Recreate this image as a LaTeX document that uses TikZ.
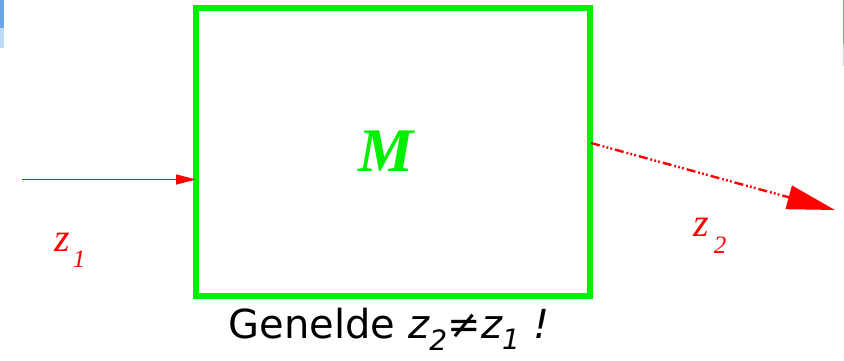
\documentclass[tikz,border=0pt]{standalone}
\usepackage{fontspec}
\setmainfont{Liberation Serif}
\newfontfamily\capfont{DejaVu Sans}
\usetikzlibrary{arrows.meta}
\definecolor{boxgreen}{RGB}{0,240,0}
\definecolor{arrred}{RGB}{255,0,0}
\definecolor{stripblue}{RGB}{106,166,232}
\definecolor{striplight}{RGB}{190,218,246}
\tikzset{
  box/.style={draw=boxgreen,line width=6pt,minimum width=394pt,minimum height=288.5pt,inner sep=0pt,outer sep=0pt},
  mlabel/.style={text=boxgreen,font=\fontsize{62}{62}\selectfont\bfseries\itshape,inner sep=0pt},
  zlabel/.style={text=arrred,font=\fontsize{40}{40}\selectfont\itshape,inner sep=0pt,anchor=base west},
  inarrow/.style={draw=arrred,line width=1.5pt,-{Triangle[length=20pt,width=10pt]}},
  outarrow/.style={draw=arrred,line width=2.4pt,dash pattern=on 9pt off 3pt on 1.8pt off 2.2pt on 1.8pt off 2.2pt on 1.8pt off 3pt,-{Triangle[length=48pt,width=24pt]}},
  caption/.style={font=\capfont\fontsize{40}{40}\selectfont,inner sep=0pt,anchor=base}
}
\begin{document}
\begin{tikzpicture}[x=1pt,y=-1pt]
\useasboundingbox (0,0) rectangle (844,360);
% blue strips at the top corners
\fill[stripblue] (0,0) rectangle (4,28);
\fill[striplight] (0,28) rectangle (4,48);
\fill[stripblue] (843,0) rectangle (844,44);
\fill[striplight] (843,44) rectangle (844,66);
% the box
\node[box] (M) at (393,151.75) {};
\node[mlabel] (Mlabel) at (386,151) {M};
% input arrow
\coordinate (in) at (22,179.5);
\draw[inarrow] (in) -- (in -| M.west);
% output arrow
\coordinate (outstart) at (591,143);
\coordinate (outend) at (835,210);
\draw[outarrow] (outstart) -- (outend);
% labels
\node[zlabel] (z1) at (54,251) {z\hspace{3pt}\raisebox{-16pt}{\fontsize{25}{25}\selectfont 1}};
\node[zlabel] (z2) at (693,236) {z\hspace{5pt}\raisebox{-17pt}{\fontsize{25}{25}\selectfont 2}};
% caption
\node[caption] (cap) at (389,338) {Genelde {\itshape z\textsubscript{2}≠z\textsubscript{1} !}};
\end{tikzpicture}
\end{document}
